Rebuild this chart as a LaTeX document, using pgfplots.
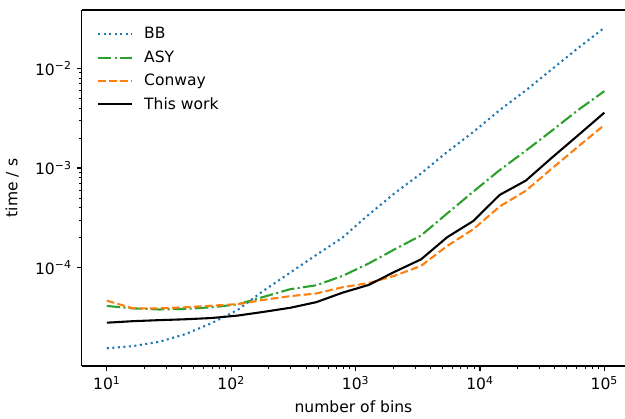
\documentclass[border=0pt]{standalone}
\usepackage{pgfplots}
\pgfplotsset{compat=1.18}
\usepackage{fontspec}
\setmainfont{DejaVu Sans}

\definecolor{mplblue}{HTML}{1F77B4}
\definecolor{mplgreen}{HTML}{2CA02C}
\definecolor{mplorange}{HTML}{FF7F0E}

\begin{document}
\begin{tikzpicture}
\begin{axis}[
    scale only axis,
    width=391pt, height=256.3pt,
    xmode=log, ymode=log,
    xmin=6.31, xmax=1.466e5,
    ymin=1.03e-5, ymax=3.85e-2,
    axis x line*=box, axis y line*=left,
    xtick pos=left, ytick pos=left,
    tick align=outside,
    major tick length=3.9pt, minor tick length=2.2pt,
    every tick/.style={black, line width=0.8pt},
    every minor tick/.style={black, line width=0.6pt},
    axis line style={line width=0.8pt},
    xtick={10,100,1000,10000,100000},
    xticklabels={10\textsuperscript{1},10\textsuperscript{2},10\textsuperscript{3},10\textsuperscript{4},10\textsuperscript{5}},
    ytick={1e-4,1e-3,1e-2},
    yticklabels={10\textsuperscript{−4},10\textsuperscript{−3},10\textsuperscript{−2}},
    tick label style={font=\fontsize{11.2}{13}\selectfont},
    label style={font=\fontsize{11.2}{13}\selectfont},
    xlabel={number of bins},
    xlabel style={at={(axis description cs:0.5,-0.132)}, anchor=base},
    ylabel={time / s},
    ylabel style={at={(axis description cs:-0.107,0.5)}, anchor=south},
    legend cell align=left,
    legend style={at={(0,1)}, anchor=north west, draw=none, fill=none,
        inner sep=0pt, font=\fontsize{11.2}{13}\selectfont, row sep=3pt,
        xshift=10.6pt, yshift=-10.5pt},
    legend image code/.code={\draw[#1] (0pt,0pt) -- (24.5pt,0pt); \path (30.5pt,0pt);},
    every axis plot/.append style={line width=1.5pt, line cap=butt},
]
\addplot[mplblue, dash pattern=on 1.5pt off 2.475pt] coordinates {
(10,1.55e-5) (16.238,1.63e-5) (26.367,1.8e-5) (42.813,2.15e-5) (69.519,2.77e-5)
(112.88,3.76e-5) (183.30,5.9e-5) (297.64,8.9e-5) (483.29,1.34e-4) (784.76,2.0e-4)
(1274.3,3.4e-4) (2069.1,5.6e-4) (3359.8,8.8e-4) (5455.6,1.45e-3) (8858.7,2.3e-3)
(14384,3.8e-3) (23357,6.0e-3) (37927,9.8e-3) (61585,1.6e-2) (100000,2.55e-2)
};
\addlegendentry{BB}
\addplot[mplgreen, dash pattern=on 9.6pt off 2.4pt on 1.5pt off 2.4pt] coordinates {
(10,4.12e-5) (16.238,3.9e-5) (26.367,3.8e-5) (42.813,3.85e-5) (69.519,4.0e-5)
(112.88,4.27e-5) (183.30,5.1e-5) (297.64,6.07e-5) (483.29,6.65e-5) (784.76,8.25e-5)
(1274.3,1.1e-4) (2069.1,1.53e-4) (3359.8,2.1e-4) (5455.6,3.5e-4) (8858.7,5.8e-4)
(14384,9.5e-4) (23357,1.49e-3) (37927,2.37e-3) (61585,3.82e-3) (100000,5.9e-3)
};
\addlegendentry{ASY}
\addplot[mplorange, dash pattern=on 5.55pt off 2.4pt] coordinates {
(10,4.66e-5) (16.238,3.9e-5) (26.367,3.9e-5) (42.813,4.0e-5) (69.519,4.15e-5)
(112.88,4.3e-5) (183.30,4.75e-5) (297.64,5.17e-5) (483.29,5.5e-5) (784.76,6.35e-5)
(1274.3,7.0e-5) (2069.1,8.3e-5) (3359.8,1.04e-4) (5455.6,1.65e-4) (8858.7,2.43e-4)
(14384,4.1e-4) (23357,5.9e-4) (37927,9.9e-4) (61585,1.64e-3) (100000,2.7e-3)
};
\addlegendentry{Conway}
\addplot[black] coordinates {
(10,2.8e-5) (16.238,2.9e-5) (26.367,2.97e-5) (42.813,3.03e-5) (69.519,3.12e-5)
(112.88,3.3e-5) (183.30,3.6e-5) (297.64,3.95e-5) (483.29,4.5e-5) (784.76,5.6e-5)
(1274.3,6.7e-5) (2069.1,9.1e-5) (3359.8,1.21e-4) (5455.6,2.02e-4) (8858.7,2.94e-4)
(14384,5.36e-4) (23357,7.46e-4) (37927,1.27e-3) (61585,2.13e-3) (100000,3.59e-3)
};
\addlegendentry{This work}
\end{axis}
\pgfresetboundingbox
\useasboundingbox (-59pt,-38pt) rectangle (391pt,263.5pt);
\end{tikzpicture}
\end{document}
